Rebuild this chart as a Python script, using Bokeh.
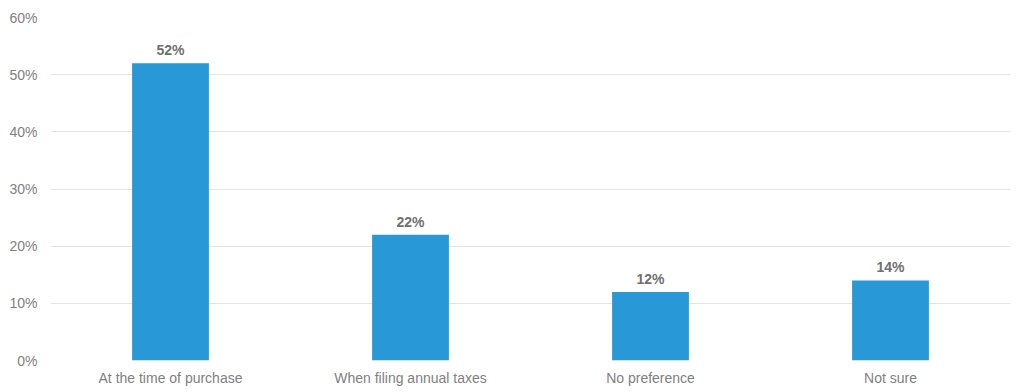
from bokeh.plotting import figure
from bokeh.models import ColumnDataSource, FixedTicker, CustomJSTickFormatter, LabelSet
from bokeh.core.properties import value
from bokeh.embed import file_html
from bokeh.resources import INLINE

categories = ["At the time of purchase", "When filing annual taxes", "No preference", "Not sure"]
values = [52, 22, 12, 14]
labels = ["52%", "22%", "12%", "14%"]
y_ticks = [0, 10, 20, 30, 40, 50, 60]

src = ColumnDataSource(dict(cat=categories, val=values, lab=labels))

p = figure(x_range=categories, y_range=(0, 60), width=1014, height=388,
           output_backend="svg", toolbar_location=None,
           min_border_left=50, min_border_right=4, min_border_top=17, min_border_bottom=27)
p.vbar(x="cat", top="val", width=0.32, source=src, color="#2899D6", line_color=None)

lab = LabelSet(x="cat", y="val", text="lab", source=src, text_align="center",
               text_baseline="bottom", y_offset=5, text_font=value("Liberation Sans"),
               text_font_style="bold", text_font_size="14px", text_color="#6f6f6f")
p.add_layout(lab)

p.outline_line_color = None
p.xgrid.grid_line_color = None
p.ygrid.grid_line_color = "#e4e4e4"
p.ygrid.grid_line_width = 1
p.yaxis.ticker = FixedTicker(ticks=y_ticks)
p.yaxis.formatter = CustomJSTickFormatter(code="return tick + '%';")
for ax in (p.xaxis, p.yaxis):
    ax.axis_line_color = None
    ax.major_tick_line_color = None
    ax.minor_tick_line_color = None
    ax.major_label_text_font = "Liberation Sans"
    ax.major_label_text_font_size = "14px"
    ax.major_label_text_color = "#7f7f7f"
p.xaxis.major_label_standoff = 3
p.yaxis.major_label_standoff = 7
p.x_range.range_padding = 0

open("out.html", "w").write(file_html(p, INLINE))
